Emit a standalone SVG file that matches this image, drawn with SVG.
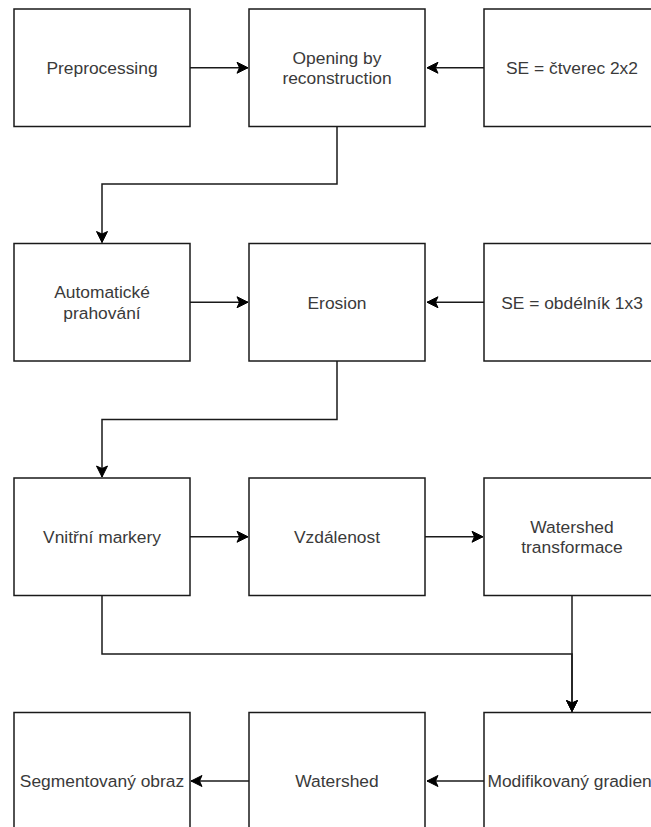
<svg xmlns="http://www.w3.org/2000/svg" width="651" height="827" viewBox="0 0 651 827">
<defs>
<marker id="arr" markerUnits="userSpaceOnUse" markerWidth="14" markerHeight="14" viewBox="0 0 14 14" refX="12" refY="7" orient="auto">
<path d="M1,1.5 L12,7 L1,12.5 L3.5,7 Z" fill="#000" stroke="#000" stroke-width="1"/>
</marker>
<style>
.box{fill:#fff;stroke:#1a1a1a;stroke-width:1.5}
.t{font-family:"Liberation Sans",Arial,sans-serif;font-size:17.4px;fill:#3a3a3a;text-anchor:middle}
.e{fill:none;stroke:#1a1a1a;stroke-width:1.5;marker-end:url(#arr)}
</style>
</defs>
<rect width="651" height="827" fill="#fff"/>
<g id="connectors">
<path class="e" d="M190,67.75 H248"/>
<path class="e" d="M484,67.75 H427"/>
<path class="e" d="M337,126.5 V184 H102 V242.5"/>
<path class="e" d="M190,302.25 H248"/>
<path class="e" d="M484,302.25 H427"/>
<path class="e" d="M337,361 V419.5 H102 V477"/>
<path class="e" d="M190,536.75 H248"/>
<path class="e" d="M425,536.75 H483"/>
<path class="e" d="M102,595.5 V654 H572 V711.5"/>
<path class="e" d="M572,595.5 V711.5"/>
<path class="e" d="M484,781 H427"/>
<path class="e" d="M249,781 H191"/>
</g>
<g id="n1"><rect class="box" x="14" y="9" width="176" height="117.5"/><text class="t" x="102" y="74">Preprocessing</text></g>
<g id="n2"><rect class="box" x="249" y="9" width="176" height="117.5"/><text class="t" x="337" y="63.5">Opening by</text><text class="t" x="337" y="84">reconstruction</text></g>
<g id="n3"><rect class="box" x="484" y="9" width="176" height="117.5"/><text class="t" x="572" y="74">SE = čtverec 2x2</text></g>
<g id="n4"><rect class="box" x="14" y="243.5" width="176" height="117.5"/><text class="t" x="102" y="298">Automatické</text><text class="t" x="102" y="318.5">prahování</text></g>
<g id="n5"><rect class="box" x="249" y="243.5" width="176" height="117.5"/><text class="t" x="337" y="308.5">Erosion</text></g>
<g id="n6"><rect class="box" x="484" y="243.5" width="176" height="117.5"/><text class="t" x="572" y="308.5">SE = obdélník 1x3</text></g>
<g id="n7"><rect class="box" x="14" y="478" width="176" height="117.5"/><text class="t" x="102" y="543">Vnitřní markery</text></g>
<g id="n8"><rect class="box" x="249" y="478" width="176" height="117.5"/><text class="t" x="337" y="543">Vzdálenost</text></g>
<g id="n9"><rect class="box" x="484" y="478" width="176" height="117.5"/><text class="t" x="572" y="532.5">Watershed</text><text class="t" x="572" y="553">transformace</text></g>
<g id="n10"><rect class="box" x="14" y="712.5" width="176" height="137"/><text class="t" x="102" y="787">Segmentovaný obraz</text></g>
<g id="n11"><rect class="box" x="249" y="712.5" width="176" height="137"/><text class="t" x="337" y="787">Watershed</text></g>
<g id="n12"><rect class="box" x="484" y="712.5" width="176" height="137"/><text class="t" x="572" y="787">Modifikovaný gradient</text></g>
</svg>
